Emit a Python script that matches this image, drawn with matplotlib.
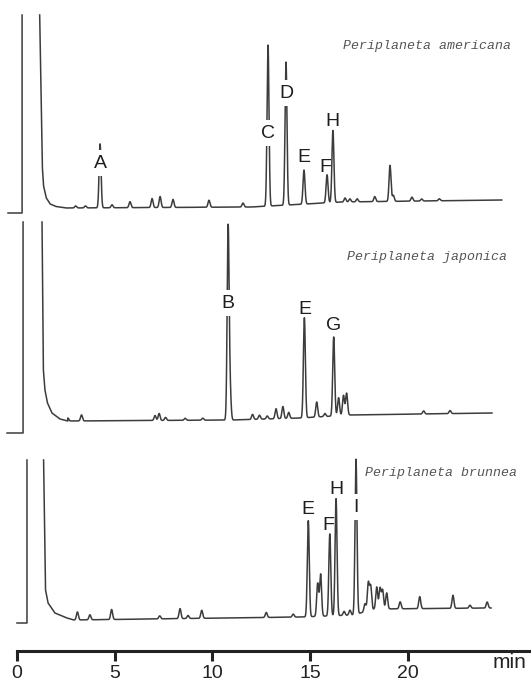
import numpy as np
import matplotlib.pyplot as plt

# retention time ticks (min)
tick_times = [0, 5, 10, 15, 20]

species = ["Periplaneta americana", "Periplaneta japonica", "Periplaneta brunnea"]

# --- P. americana ---
am_times = [3.0, 3.5, 4.25, 4.86, 5.78, 6.91, 7.32, 7.98, 9.82, 11.56, 12.84, 13.76,
            14.68, 15.86, 16.16, 16.78, 17.03, 17.4, 18.3, 19.08, 19.25, 20.2, 20.7, 21.6]
am_heights = [2, 2, 64, 3, 6, 9, 11, 8, 7, 4, 161, 143,
              34, 28, 72, 4, 3, 3, 5, 36, 6, 4, 2, 2]
am_drift_t = [2.5, 12.0, 16.6, 24.8]
am_drift = [0, 1, 6, 8]
am_tail_t = [1.16, 1.30, 1.36, 1.50, 1.70, 2.0, 2.5]
am_tail = [193, 40, 22, 10, 4, 1.5, 0]
am_labels = ["A", "C", "D", "E", "F", "H"]
am_label_t = [4.25, 12.84, 13.76, 14.68, 15.78, 16.16]

# --- P. japonica ---
ja_times = [2.6, 3.3, 7.06, 7.27, 7.6, 8.6, 9.5, 10.8, 10.9, 12.05, 12.4, 12.8, 13.25,
            13.6, 13.9, 14.7, 15.33, 15.75, 16.2, 16.45, 16.7, 16.86, 20.8, 22.15]
ja_heights = [3, 6, 5, 7, 3, 2, 2, 192, 28, 5, 4, 3, 10,
              12, 6, 100, 15, 3, 79, 18, 20, 22, 3, 3]
ja_drift_t = [2.6, 11.0, 14.5, 17.0, 24.3]
ja_drift = [0, 1, 3, 6, 8]
ja_tail_t = [1.28, 1.35, 1.43, 1.56, 1.79, 2.2, 2.6]
ja_tail = [199, 51, 31, 18, 8, 2, 0]
ja_labels = ["B", "E", "G"]
ja_label_t = [10.8, 14.7, 16.2]

# --- P. brunnea ---
br_times = [3.09, 3.73, 4.84, 7.3, 8.34, 8.75, 9.45, 12.75, 14.13, 14.9, 15.38, 15.53,
            16.0, 16.32, 16.73, 17.03, 17.34, 17.8, 17.97, 18.09, 18.4, 18.57, 18.7,
            18.91, 19.6, 20.6, 22.3, 23.17, 24.05]
br_heights = [8, 5, 10, 3, 10, 3, 8, 5, 3, 96, 33, 42,
              82, 117, 4, 5, 155, 8, 28, 24, 22, 21, 19,
              16, 7, 12, 13, 3, 6]
br_drift_t = [2.9, 14.5, 17.2, 18.3, 24.3]
br_drift = [0, 3, 5, 11, 12]
br_tail_t = [1.36, 1.46, 1.59, 1.94, 2.56, 2.9]
br_tail = [160, 30, 17, 7, 2, 0]
br_labels = ["E", "F", "H", "I"]
br_label_t = [14.88, 15.9, 16.32, 17.34]

# layout: baseline level, marker/foot geometry, end of run, label heights
panels = [
    dict(times=am_times, heights=am_heights, dt=am_drift_t, dv=am_drift,
         tt=am_tail_t, tv=am_tail, base=478, foot=(-0.46, 0.26, -5), end=24.8,
         labels=am_labels, label_t=am_label_t,
         label_y=[523, 553, 593, 528, 518, 564], boxed=[1, 1, 1, 0, 0, 0],
         name_xy=(16.7, 640)),
    dict(times=ja_times, heights=ja_heights, dt=ja_drift_t, dv=ja_drift,
         tt=ja_tail_t, tv=ja_tail, base=265, foot=(-0.51, 0.31, -12), end=24.3,
         labels=ja_labels, label_t=ja_label_t,
         label_y=[383, 377, 360], boxed=[1, 0, 0],
         name_xy=(16.9, 429)),
    dict(times=br_times, heights=br_heights, dt=br_drift_t, dv=br_drift,
         tt=br_tail_t, tv=br_tail, base=66, foot=(0.0, 0.51, -3), end=24.25,
         labels=br_labels, label_t=br_label_t,
         label_y=[177, 161, 197, 179], boxed=[0, 0, 0, 1],
         name_xy=(17.8, 213)),
]

sigma = 0.05
ink = "#3c3c3c"

fig = plt.figure(figsize=(5.31, 6.86), dpi=100)
ax = fig.add_axes([0, 0, 1, 1])
ax.set_xlim(-17 / 19.55, 514 / 19.55)
ax.set_ylim(0, 686)

for p, name in zip(panels, species):
    base = p["base"]
    t0, tm, fl = p["foot"]
    top = p["tv"][0]
    # pen start: foot, then the injection mark going off scale
    fx = [t0, tm, tm]
    fy = [base + fl, base + fl, base + top]
    # solvent front coming back on scale
    sx = list(p["tt"])
    sy = [base + v for v in p["tv"]]
    # baseline and peaks
    t = np.arange(p["tt"][-1], p["end"], 0.004)
    y = np.interp(t, p["dt"], p["dv"])
    for tp, hp in zip(p["times"], p["heights"]):
        y = y + hp * np.exp(-0.5 * ((t - tp) / sigma) ** 2)
    x_all = fx + [np.nan] + sx + list(t)
    y_all = fy + [np.nan] + sy + list(base + y)
    ax.plot(x_all, y_all, color=ink, lw=1.1, solid_joinstyle="round")

    for lab, lt, ly, bx in zip(p["labels"], p["label_t"], p["label_y"], p["boxed"]):
        kw = {}
        if bx:
            kw["bbox"] = dict(fc="white", ec="none", pad=3.0)
        ax.text(lt, ly, lab, ha="center", va="center", fontsize=14,
                family="Liberation Sans", color="#1e1e1e", zorder=5, **kw)

    ax.text(p["name_xy"][0], p["name_xy"][1], name, ha="left", va="center",
            fontsize=9.5, family="Liberation Mono", style="italic", color="#555555")

# time axis
for s in ["left", "right", "top"]:
    ax.spines[s].set_visible(False)
ax.spines["bottom"].set_position(("data", 35))
ax.spines["bottom"].set_bounds(0, 514 / 19.55)
ax.spines["bottom"].set_linewidth(2.2)
ax.spines["bottom"].set_color("#222222")
ax.set_yticks([])
ax.set_xticks(tick_times)
ax.set_xticklabels([str(v) for v in tick_times], family="Liberation Sans", fontsize=14,
                   color="#222222")
ax.tick_params(axis="x", direction="out", length=7, width=2.2, color="#222222", pad=3)
ax.text(25.2, 23, "min", ha="center", va="center", fontsize=15,
        family="Liberation Sans", color="#222222")

fig.savefig("out.png", dpi=100, facecolor="white")
